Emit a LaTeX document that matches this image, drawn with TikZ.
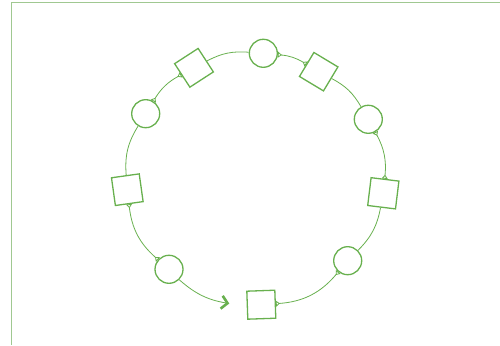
\documentclass[tikz,border=0pt]{standalone}
\usetikzlibrary{arrows.meta}
\definecolor{leaf}{RGB}{104,176,78}
\definecolor{frameg}{RGB}{160,200,145}
\begin{document}
\begin{tikzpicture}[x=1pt,y=1pt,
  circ/.style={circle,draw=leaf,line width=1.3pt,minimum size=28pt,inner sep=0pt},
  sq/.style={rectangle,draw=leaf,line width=1.3pt,minimum size=28pt,inner sep=0pt},
  link/.style={draw=leaf,line width=0.8pt},
  paired/.style={link,{Triangle[open,reversed,length=4pt,width=6pt]}-{Triangle[open,reversed,length=4pt,width=6pt]}},
  bigarrow/.style={link,-{Straight Barb[length=6pt,width=13pt,line width=2.6pt]}}
]
\useasboundingbox (0,0) rectangle (500,345);
% frame
\coordinate (fc) at (11.7,342.7);
\coordinate (fr) at (500,342.7);
\coordinate (fb) at (11.7,0);
\draw[frameg,line width=1pt] (fr) -- (fc) -- (fb);
% nodes
\node[circ] (c1) at (263.3,291.7) {};
\node[sq,rotate=-31] (s1) at (318.7,273.3) {};
\node[circ] (c2) at (368.3,225.7) {};
\node[sq,rotate=-7] (s2) at (383.3,151.7) {};
\node[circ] (c3) at (347.7,84.3) {};
\node[sq,rotate=2] (s3) at (261.3,40.3) {};
\node[circ] (c4) at (169,75.7) {};
\node[sq,rotate=8] (s4) at (127.3,155.3) {};
\node[circ] (c5) at (145.7,231.3) {};
\node[sq,rotate=33] (s5) at (194,277.2) {};
\coordinate (tip) at (229.3,41.5);
% connectors
\draw[paired] (s3) to[bend right=23] (c3);
\draw[link] (c3) to[bend right=17] (s2);
\draw[paired] (s2) to[bend right=17] (c2);
\draw[link] (c2) to[bend right=16] (s1);
\draw[paired] (s1) to[bend right=13] (c1);
\draw[link] (c1) to[bend right=16] (s5);
\draw[paired] (s5) to[bend right=15] (c5);
\draw[link] (c5) to[bend right=18] (s4);
\draw[paired] (s4) to[bend right=21] (c4);
\draw[bigarrow] (c4) to[bend right=16] (tip);
\end{tikzpicture}
\end{document}
